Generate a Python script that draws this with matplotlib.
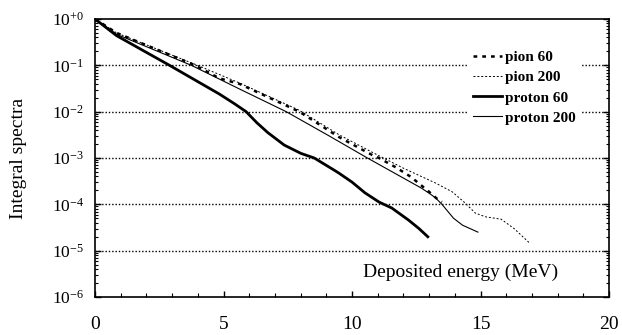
import matplotlib
matplotlib.use("Agg")
import matplotlib.pyplot as plt
import numpy as np
from matplotlib.ticker import FixedLocator, LogLocator, NullFormatter, MultipleLocator

# Integral spectra of deposited energy, stored as log10 of the spectrum value
pion60_x = [0, 0.84, 3.9, 4.84, 5.62, 7.95, 9.5, 10.8, 11.05, 11.7, 12.3, 13.0, 13.37, 13.5]
pion60_log = [0, -0.30, -1.0, -1.28, -1.40, -2.0, -2.55, -2.94, -3.0, -3.2, -3.41, -3.73, -3.91, -3.95]

pion200_x = [0, 0.84, 3.9, 5.62, 7.95, 9.5, 10.8, 12.0, 13.25, 13.9, 14.4, 14.8, 15.2, 15.8, 16.3, 16.9]
pion200_log = [0, -0.30, -0.98, -1.38, -1.97, -2.50, -2.88, -3.22, -3.54, -3.73, -3.97, -4.19, -4.27, -4.32, -4.52, -4.83]

proton60_x = [0, 0.84, 2.9, 4.84, 5.43, 5.88, 6.3, 6.72, 7.36, 8.01, 8.53, 9.3, 9.5, 10.0,
              10.5, 11.05, 11.55, 12.2, 12.6, 12.95]
proton60_log = [0, -0.36, -1.0, -1.62, -1.83, -2.0, -2.24, -2.45, -2.72, -2.90, -3.0, -3.26, -3.33, -3.52,
                -3.75, -3.95, -4.08, -4.34, -4.52, -4.70]

proton200_x = [0, 0.84, 3.75, 5.62, 7.44, 9.1, 10.6, 12.7, 13.0, 13.25, 13.5, 13.95, 14.3, 14.9]
proton200_log = [0, -0.33, -1.0, -1.51, -2.0, -2.52, -3.0, -3.65, -3.76, -3.86, -4.0, -4.3, -4.45, -4.6]

series_labels = ["pion 60", "pion 200", "proton 60", "proton 200"]

x_ticks = [0, 5, 10, 15, 20]
y_exponents = [0, -1, -2, -3, -4, -5, -6]
y_tick_labels = [r"10$^{\mathregular{+0}}$"] + [r"10$^{\mathregular{%d}}$" % e for e in y_exponents[1:]]

plt.rcParams["font.family"] = ["Liberation Serif", "DejaVu Serif"]
plt.rcParams["mathtext.fontset"] = "custom"
plt.rcParams["mathtext.rm"] = "Liberation Serif"
plt.rcParams["mathtext.it"] = "Liberation Serif:italic"
plt.rcParams["mathtext.bf"] = "Liberation Serif:bold"

fig = plt.figure(figsize=(6.22, 3.35), dpi=100)
ax = fig.add_axes([95 / 622, 1 - 297 / 335, 514 / 622, 278 / 335])

ax.set_yscale("log")
ax.set_xlim(0, 20)
ax.set_ylim(1e-6, 1)

# dotted horizontal grid at each decade
for e in y_exponents[1:-1]:
    ax.axhline(10.0 ** e, color="black", lw=1.0, ls=(0, (1, 1.4)), zorder=1)

def to_lin(v):
    return np.power(10.0, np.asarray(v))

ax.plot(pion60_x, to_lin(pion60_log), color="black", lw=1.8, ls=(0, (1.5, 2.0)),
        label=series_labels[0], zorder=3)
ax.plot(pion200_x, to_lin(pion200_log), color="black", lw=0.7, ls=(0, (2, 2)),
        label=series_labels[1], zorder=3)
ax.plot(proton60_x, to_lin(proton60_log), color="black", lw=2.0, ls="-",
        label=series_labels[2], zorder=3)
ax.plot(proton200_x, to_lin(proton200_log), color="black", lw=0.8, ls="-",
        label=series_labels[3], zorder=3)

# axes, ticks and labels
for side in ["left", "bottom", "right", "top"]:
    ax.spines[side].set_linewidth(1.2)

ax.xaxis.set_major_locator(FixedLocator(x_ticks))
ax.xaxis.set_minor_locator(MultipleLocator(1))
ax.set_xticklabels([str(t) for t in x_ticks])
ax.yaxis.set_major_locator(FixedLocator([10.0 ** e for e in y_exponents]))
ax.yaxis.set_minor_locator(LogLocator(base=10, subs=np.arange(2, 10), numticks=20))
ax.yaxis.set_minor_formatter(NullFormatter())
ax.set_yticklabels(y_tick_labels)

ax.tick_params(axis="x", which="both", direction="in", top=False, bottom=True,
               labelsize=14, pad=14)
ax.tick_params(axis="x", which="major", length=4, width=1)
ax.tick_params(axis="x", which="minor", length=3, width=0.8)
ax.tick_params(axis="y", which="both", direction="in", left=True, right=True,
               labelsize=12.5, pad=8)
ax.tick_params(axis="y", which="major", length=4, width=1)
ax.tick_params(axis="y", which="minor", length=2.5, width=0.8)

ax.set_ylabel("Integral spectra", fontsize=14)
ax.yaxis.set_label_coords(-68 / 514, 0.5)

ax.text((461 - 95) / 514, (297 - 272) / 278, "Deposited energy (MeV)",
        transform=ax.transAxes, ha="center", va="center", fontsize=14)

leg = ax.legend(loc="upper left", bbox_to_anchor=((468 - 95) / 514, 1 - (46 - 19) / 278),
                frameon=True, facecolor="white", edgecolor="none", framealpha=1,
                fancybox=False, borderpad=0.3, borderaxespad=0, handlelength=1.9,
                handletextpad=0.25, labelspacing=0.42,
                prop={"family": "Liberation Serif", "weight": "bold", "size": 11})
leg.set_zorder(4)

fig.savefig("out.png", dpi=100)
